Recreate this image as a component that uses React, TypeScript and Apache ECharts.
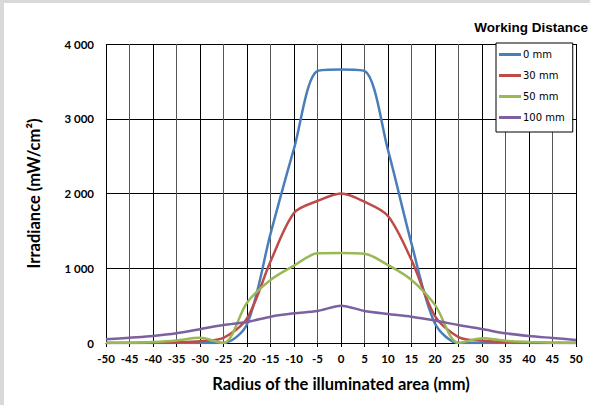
import React, { useEffect, useRef } from "react";
import * as echarts from "echarts";

const radius = [-50, -45, -40, -35, -30, -25, -20, -15, -10, -5, 0, 5, 10, 15, 20, 25, 30, 35, 40, 45, 50];
const seriesNames = ["0 mm", "30 mm", "50 mm", "100 mm"];
const wd0 = [0, 0, 0, 0, 0, 0, 250, 1460, 2600, 3640, 3660, 3640, 2580, 1330, 260, 0, 0, 0, 0, 0, 0];
const wd30 = [0, 0, 5, 10, 25, 70, 330, 1090, 1740, 1900, 2000, 1890, 1700, 1110, 360, 80, 30, 15, 5, 0, 0];
const wd50 = [0, 5, 15, 35, 70, 0, 540, 843, 1035, 1200, 1205, 1195, 1043, 843, 510, 0, 65, 30, 15, 5, 0];
const wd100 = [49, 71, 94, 130, 185, 240, 280, 352, 397, 428, 500, 428, 388, 352, 300, 240, 187, 130, 94, 67, 40];
const colors = ["#4a7ebb", "#be4b48", "#98b954", "#7d60a0"];
const yTicks = [0, 1000, 2000, 3000, 4000];

const fmt = (v: number) => {
  const s = String(Math.round(v));
  return s.replace(/\B(?=(\d{3})+(?!\d))/g, " ");
};

export default function App() {
  const ref = useRef<HTMLDivElement>(null);
  useEffect(() => {
    if (!ref.current) return;
    const chart = echarts.init(ref.current, undefined, { renderer: "svg" });
    const all = [wd0, wd30, wd50, wd100];
    chart.setOption({
      animation: false,
      backgroundColor: "transparent",
      textStyle: { fontFamily: "Lato" },
      title: {
        text: "Working Distance",
        right: 2,
        top: 20,
        padding: 0,
        textStyle: { fontFamily: "Liberation Sans", fontWeight: "bold", fontSize: 13.5, color: "#000" },
      },
      legend: {
        orient: "vertical",
        left: 496,
        top: 43,
        width: 73,
        padding: [6, 8, 9, 3],
        itemGap: 10,
        itemWidth: 22,
        itemHeight: 3,
        icon: "rect",
        borderColor: "#000",
        borderWidth: 1,
        backgroundColor: "#fff",
        data: seriesNames,
        textStyle: { fontFamily: "DejaVu Sans", fontSize: 10, color: "#000", padding: [0, 0, 0, -3], lineHeight: 11 },
      },
      grid: { left: 106, right: 14, top: 44, bottom: 62, containLabel: false },
      xAxis: {
        type: "value",
        min: -50,
        max: 50,
        interval: 5,
        name: "Radius of the illuminated area (mm)",
        nameLocation: "middle",
        nameGap: 32,
        nameTextStyle: { fontFamily: "Lato", fontWeight: "bold", fontSize: 16.5, color: "#000" },
        axisLine: { show: true, onZero: false, lineStyle: { color: "#000", width: 1 } },
        axisTick: { show: true, length: 4, lineStyle: { color: "#000" } },
        axisLabel: { fontFamily: "Lato", fontWeight: "bold", fontSize: 11.5, color: "#000", margin: 9 },
        splitLine: { show: true, lineStyle: { color: ["#000", "#555"], width: 1 } },
      },
      yAxis: {
        type: "value",
        min: 0,
        max: 4000,
        interval: 1000,
        name: "Irradiance (mW/cm²)",
        nameLocation: "middle",
        nameGap: 64,
        nameTextStyle: { fontFamily: "Lato", fontWeight: "bold", fontSize: 16.5, color: "#000" },
        axisLine: { show: true, lineStyle: { color: "#000", width: 1 } },
        axisTick: { show: true, length: 4, lineStyle: { color: "#000" } },
        axisLabel: {
          fontFamily: "Lato",
          fontWeight: "bold",
          fontSize: 11.5,
          color: "#000",
          margin: 12,
          formatter: (v: number) => (yTicks.includes(v) ? fmt(v) : ""),
        },
        splitLine: { show: true, lineStyle: { color: "#000", width: 1 } },
      },
      series: seriesNames.map((name, i) => ({
        name,
        type: "line",
        smooth: 0.3,
        showSymbol: false,
        symbol: "none",
        data: radius.map((r, j) => [r, all[i][j]]),
        lineStyle: { color: colors[i], width: 2.5 },
        itemStyle: { color: colors[i] },
      })),
    });
    return () => chart.dispose();
  }, []);
  return (
    <div style={{ position: "fixed", left: 0, top: 0, width: 590, height: 405, background: "#d9d9d9" }}>
      <div style={{ position: "absolute", left: 4, top: 3, width: 586, height: 402, background: "#fff" }} />
      <div ref={ref} style={{ position: "absolute", left: 0, top: 0, width: 590, height: 405 }} />
    </div>
  );
}
